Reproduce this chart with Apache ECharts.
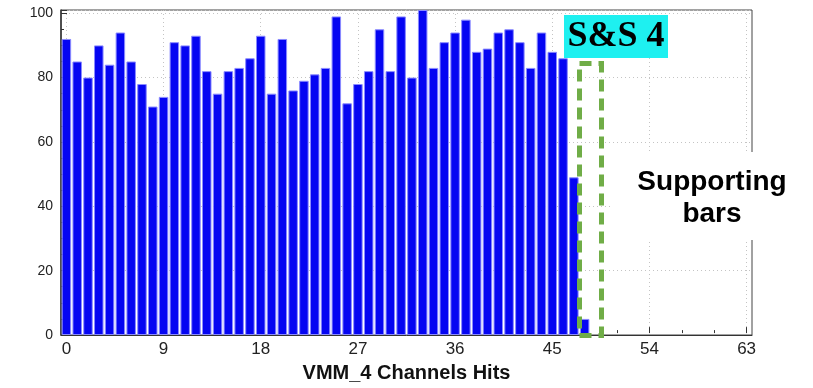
<!DOCTYPE html>
<html>
<head>
<meta charset="utf-8">
<script src="https://cdn.jsdelivr.net/npm/echarts@6/dist/echarts.min.js"></script>
<style>
html,body{margin:0;padding:0;background:#fff;}
#chart{width:813px;height:388px;}
</style>
</head>
<body>
<div id="chart"></div>
<script>
// channel numbers 0..63
const channels = [];
for (let i = 0; i < 64; i++) channels.push(String(i));
// hits per channel
const hits = [
  92, 85, 80, 90, 84, 94, 85, 78, 71, 74,
  91, 90, 93, 82, 75, 82, 83, 86, 93, 75,
  92, 76, 79, 81, 83, 99, 72, 78, 82, 95,
  82, 99, 80, 101, 83, 91, 94, 98, 88, 89,
  94, 95, 91, 83, 94, 88, 86, 49, 5, 0,
  0, 0, 0, 0, 0, 0, 0, 0, 0, 0,
  0, 0, 0, 0
];
const yTicks = [0, 20, 40, 60, 80, 100];
const xTickLabels = [0, 9, 18, 27, 36, 45, 54, 63];
const xTitle = 'VMM_4 Channels Hits';
const tagText = 'S&S 4';
const noteLines = ['Supporting', 'bars'];

const G = {left: 61, right: 61, top: 10, bottom: 53};
const plotW = 813 - G.left - G.right;
const half = plotW / 64 / 2;

// empty channels draw nothing
const barData = hits.map(v => (v === 0 ? null : v));

const chart = echarts.init(document.getElementById('chart'));
chart.setOption({
  animation: false,
  backgroundColor: '#ffffff',
  grid: [
    {left: G.left, right: G.right, top: G.top, bottom: G.bottom, show: true, borderColor: '#444', borderWidth: 1, backgroundColor: 'transparent'},
    {left: G.left + half, right: G.right + half, top: G.top, bottom: G.bottom, show: false}
  ],
  xAxis: [
    {
      type: 'category', gridIndex: 0, data: channels,
      axisLine: {show: true, lineStyle: {color: '#333', width: 1}},
      axisTick: {show: false}, axisLabel: {show: false}, splitLine: {show: false}
    },
    {
      type: 'value', gridIndex: 1, min: 0, max: 63, interval: 9,
      name: xTitle, nameLocation: 'middle', nameGap: 27,
      nameTextStyle: {fontFamily: 'Liberation Sans, Arial, sans-serif', fontWeight: 'bold', fontSize: 20, color: '#111'},
      axisLine: {show: false},
      axisTick: {show: true, inside: true, length: 6, lineStyle: {color: '#333'}},
      minorTick: {show: true, splitNumber: 3, length: 3, lineStyle: {color: '#333'}},
      axisLabel: {
        show: true, margin: 8, fontSize: 17, color: '#222',
        fontFamily: 'Liberation Sans Narrow, Arial Narrow, sans-serif',
        formatter: v => xTickLabels.indexOf(v) >= 0 ? String(v) : ''
      },
      splitLine: {show: true, lineStyle: {color: '#c4c4c4', type: [1, 3], width: 1}}
    }
  ],
  yAxis: [
    {
      type: 'value', gridIndex: 0, min: 0, max: 101, interval: 20,
      axisLine: {show: true, lineStyle: {color: '#333', width: 1.5}},
      axisTick: {show: true, inside: true, length: 6, lineStyle: {color: '#333'}},
      minorTick: {show: true, splitNumber: 4, length: 3, lineStyle: {color: '#333'}},
      axisLabel: {
        margin: 8, fontSize: 14, color: '#222',
        fontFamily: 'Liberation Sans, Arial, sans-serif',
        formatter: v => yTicks.indexOf(v) >= 0 ? String(v) : ''
      },
      splitLine: {show: true, lineStyle: {color: '#c4c4c4', type: [1, 3], width: 1}}
    },
    {type: 'value', gridIndex: 1, min: 0, max: 1, show: false}
  ],
  series: [
    {
      type: 'bar', xAxisIndex: 0, yAxisIndex: 0, data: barData,
      barCategoryGap: '12%',
      itemStyle: {color: '#0505f2', borderColor: '#8a8aff', borderWidth: 1},
      silent: true
    }
  ],
  graphic: [
    {
      type: 'rect', z: 100,
      shape: {x: 564, y: 15, width: 104, height: 43},
      style: {fill: '#1ef0f0'}
    },
    {
      type: 'text', z: 101, x: 616, y: 37,
      style: {text: tagText, font: 'bold 36px "Liberation Serif", "Times New Roman", serif', fill: '#000', align: 'center', verticalAlign: 'middle'}
    },
    {
      type: 'rect', z: 100,
      shape: {x: 579.5, y: 63.5, width: 22, height: 272},
      style: {fill: 'none', stroke: '#70ad47', lineWidth: 5, lineDash: [12, 7]}
    },
    {
      type: 'rect', z: 100,
      shape: {x: 612, y: 152, width: 190, height: 88},
      style: {fill: '#ffffff'}
    },
    {
      type: 'text', z: 101, x: 712, y: 182,
      style: {text: noteLines[0], font: 'bold 28px "Liberation Sans", Arial, sans-serif', fill: '#000', align: 'center', verticalAlign: 'middle'}
    },
    {
      type: 'text', z: 101, x: 712, y: 214,
      style: {text: noteLines[1], font: 'bold 28px "Liberation Sans", Arial, sans-serif', fill: '#000', align: 'center', verticalAlign: 'middle'}
    }
  ]
});
</script>
</body>
</html>
